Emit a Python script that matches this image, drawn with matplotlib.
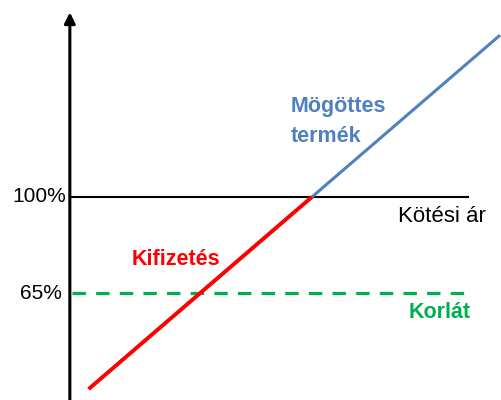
import numpy as np
import matplotlib.pyplot as plt

plt.rcParams['font.family'] = ['Liberation Sans', 'DejaVu Sans']

# underlying price vs value (both in % of initial)
underlying_x = [30, 159]
underlying_y = [30, 159]
payoff_x = [30, 100]
payoff_y = [30, 100]
strike = 100
barrier = 65
level_labels = ['100%', '65%']

blue = '#4F81BD'
red = '#FF0000'
green = '#00B050'

fig = plt.figure(figsize=(5.02, 4.0), dpi=100)
ax = fig.add_axes([0, 0, 1, 1])
ax.set_xlim(2.2, 159.6)
ax.set_ylim(26.0, 171.8)
ax.axis('off')

axis_x = 24.1
line_end = 148.9

# vertical axis with arrow
ax.annotate('', xy=(axis_x, 167.3), xytext=(axis_x, 26.0),
            arrowprops=dict(arrowstyle='-|>', color='black', lw=2.2,
                            mutation_scale=16, shrinkA=0, shrinkB=0))

# strike and barrier levels
ax.plot([axis_x, line_end], [strike, strike], color='black', lw=1.5)
ax.plot([axis_x + 0.7, line_end], [barrier, barrier], color=green, lw=2.3,
        dashes=(4.2, 3.2))

# underlying and payoff
ax.plot(underlying_x, underlying_y, color=blue, lw=2.2, solid_capstyle='butt')
ax.plot(payoff_x, payoff_y, color=red, lw=2.8, solid_capstyle='butt')

# labels
ax.text(22.9, strike, level_labels[0], ha='right', va='center', fontsize=15)
ax.text(21.6, barrier, level_labels[1], ha='right', va='center', fontsize=15)
ax.text(127, 90.9, 'Kötési ár', ha='left', va='baseline', fontsize=16)
ax.text(130.4, 55.9, 'Korlát', ha='left', va='baseline', fontsize=15.5,
        fontweight='bold', color=green)
ax.text(93.4, 131.0, 'Mögöttes', ha='left', va='baseline', fontsize=15.5,
        fontweight='bold', color=blue)
ax.text(93.4, 120.1, 'termék', ha='left', va='baseline', fontsize=15.5,
        fontweight='bold', color=blue)
ax.text(43.6, 75.2, 'Kifizetés', ha='left', va='baseline', fontsize=15.5,
        fontweight='bold', color=red)

fig.savefig('out.png', dpi=100)
